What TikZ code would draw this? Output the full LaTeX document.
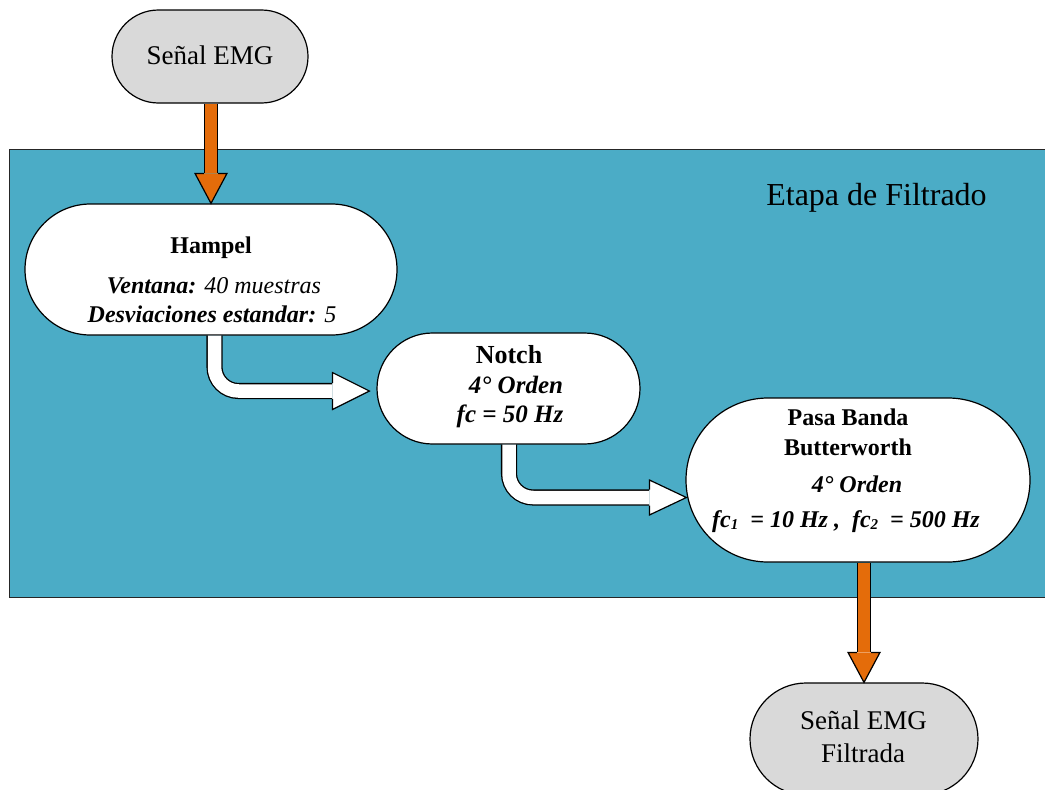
\documentclass[tikz,border=0pt]{standalone}
\usepackage{fontspec}
\setmainfont{Liberation Serif}
\usetikzlibrary{shapes.misc,calc}
\definecolor{panelblue}{RGB}{75,172,198}
\definecolor{termgray}{RGB}{217,217,217}
\definecolor{floworange}{RGB}{228,108,10}
\newcommand{\fsz}[1]{\fontsize{#1}{#1}\selectfont}
\newcommand{\subdig}[1]{{\fontsize{15}{15}\selectfont\raisebox{-2pt}{#1}}}
\begin{document}
\begin{tikzpicture}[x=1pt,y=-1pt,
  term/.style={rounded rectangle, draw=black, fill=termgray, line width=1.2pt, inner sep=0pt},
  proc/.style={rounded rectangle, draw=black, fill=white, line width=1.2pt, inner sep=0pt},
  txt/.style={anchor=base, inner sep=0pt, text=black},
  panel/.style={draw=black!85, fill=panelblue, line width=1.3pt, inner sep=0pt, anchor=north west},
  oshaft/.style={line width=1.2pt, draw=black, double=floworange, double distance=12pt},
  wshaft/.style={line width=1.3pt, draw=black, double=white, double distance=13.5pt, rounded corners=24pt},
  headline/.style={line width=1.2pt, draw=black, line join=miter}
]
\useasboundingbox (0,0) rectangle (1045,790);

% panel
\node[panel, minimum width=1060pt, minimum height=448pt] (stage) at (9,149) {};
\node[txt] (stagelbl) at (876.5,205) {\fsz{32}Etapa de Filtrado};

% nodes
\node[term, minimum width=196pt, minimum height=93pt] (start) at (210,56.5) {};
\node[txt] (startT) at (210,64) {\fsz{27}Señal EMG};

\node[proc, minimum width=372pt, minimum height=131pt] (hampel) at (211,269.5) {};
\node[txt] (hampelA) at (211,253) {\fsz{24}\textbf{Hampel}};
\node[txt] (hampelB) at (214,293) {\fsz{24}\textbf{\textit{Ventana:}} \textit{40 muestras}};
\node[txt] (hampelC) at (212,322) {\fsz{24}\textbf{\textit{Desviaciones estandar:}} \textit{5}};

\node[proc, minimum width=263pt, minimum height=111pt] (notch) at (508.5,388.5) {};
\node[txt] (notchA) at (509,363) {\fsz{26}\textbf{Notch}};
\node[txt] (notchB) at (516,393) {\fsz{25}\textbf{\textit{4° Orden}}};
\node[txt] (notchC) at (510,422) {\fsz{25}\textbf{\textit{fc = 50 Hz}}};

\node[proc, minimum width=344pt, minimum height=164pt] (pasa) at (858,480) {};
\node[txt] (pasaA) at (848,425) {\fsz{24}\textbf{Pasa Banda}};
\node[txt] (pasaB) at (848,455) {\fsz{24}\textbf{Butterworth}};
\node[txt] (pasaC) at (857,492) {\fsz{24}\textbf{\textit{4° Orden}}};
\node[txt] (pasaD) at (846,527) {\fsz{24}\textbf{\textit{fc\subdig{1}\ \ = 10 Hz ,\ \ fc\subdig{2}\ \ = 500 Hz}}};

\node[term, minimum width=228pt, minimum height=112pt] (finish) at (864,739) {};
\node[txt] (finishA) at (863.5,729) {\fsz{27}Señal EMG};
\node[txt] (finishB) at (863,762) {\fsz{27}Filtrada};

% orange arrow: start -> hampel
\coordinate (t0) at (hampel.north);
\coordinate (b0) at ($(t0)+(0,-30)$);
\draw[oshaft] (start.south -| t0) -- (b0);
\fill[floworange] ($(b0)+(-16,0)$) -- (t0) -- ($(b0)+(16,0)$) -- cycle;
\draw[headline] ($(b0)+(-7.2,0)$) -- ($(b0)+(-16,0)$) -- (t0) -- ($(b0)+(16,0)$) -- ($(b0)+(7.2,0)$);

% white arrow: hampel -> notch
\coordinate (t1) at ($(notch.west)+(-7,2.5)$);
\coordinate (b1) at ($(t1)+(-37,0)$);
\draw[wshaft] ($(hampel.south)+(3.5,0)$) |- (b1);
\fill[white] ($(b1)+(0,-18.5)$) -- (t1) -- ($(b1)+(0,18.5)$) -- cycle;
\draw[headline] ($(b1)+(0,-8)$) -- ($(b1)+(0,-18.5)$) -- (t1) -- ($(b1)+(0,18.5)$) -- ($(b1)+(0,8)$);

% white arrow: notch -> pasa
\coordinate (t2) at ($(pasa.west)+(1,17.5)$);
\coordinate (b2) at ($(t2)+(-37,0)$);
\draw[wshaft] ($(notch.south)+(0.5,0)$) |- (b2);
\fill[white] ($(b2)+(0,-17.5)$) -- (t2) -- ($(b2)+(0,17.5)$) -- cycle;
\draw[headline] ($(b2)+(0,-8)$) -- ($(b2)+(0,-17.5)$) -- (t2) -- ($(b2)+(0,17.5)$) -- ($(b2)+(0,8)$);

% orange arrow: pasa -> finish
\coordinate (t3) at (finish.north);
\coordinate (b3) at ($(t3)+(0,-30)$);
\draw[oshaft] (pasa.south -| t3) -- (b3);
\fill[floworange] ($(b3)+(-16,0)$) -- (t3) -- ($(b3)+(16,0)$) -- cycle;
\draw[headline] ($(b3)+(-7.2,0)$) -- ($(b3)+(-16,0)$) -- (t3) -- ($(b3)+(16,0)$) -- ($(b3)+(7.2,0)$);
\end{tikzpicture}
\end{document}
